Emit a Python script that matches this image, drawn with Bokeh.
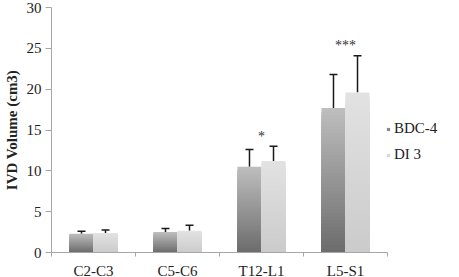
import numpy as np
from bokeh.plotting import figure
from bokeh.models import (ColumnDataSource, FixedTicker, Whisker, TeeHead, Legend,
                          LegendItem, Range1d)
from bokeh.core.properties import value
from bokeh.embed import file_html
from bokeh.resources import INLINE

categories = ["C2-C3", "C5-C6", "T12-L1", "L5-S1"]
series = ["BDC-4", "DI 3"]
bdc4 = [2.3, 2.5, 10.5, 17.7]
bdc4_sd = [0.3, 0.45, 2.1, 4.1]
di3 = [2.4, 2.65, 11.2, 19.6]
di3_sd = [0.35, 0.7, 1.8, 4.5]
sig_labels = ["", "", "*", "***"]
y_ticks = [0, 5, 10, 15, 20, 25, 30]

FONT = "Liberation Serif"
n = len(categories)
centers = np.arange(n) + 0.5
bw = 0.286

AXIS_W = 336          # width of the category area in px
EXTRA_W = 67          # room at right for the legend
x_end = n * (AXIS_W + EXTRA_W) / AXIS_W

p = figure(frame_width=AXIS_W + EXTRA_W, frame_height=245, output_backend="svg",
           toolbar_location=None,
           x_range=Range1d(0, x_end), y_range=Range1d(0, 30),
           min_border_left=40, min_border_right=0, min_border_top=7, min_border_bottom=18)
p.outline_line_color = None
p.grid.grid_line_color = None
p.background_fill_color = "white"
p.border_fill_color = "white"

# gradient bars built from data: nested full-height bars, tallest (lightest) first
def grad_bars(vals, offs, dark, light, N=40):
    xs, tops, cols = [], [], []
    for k in reversed(range(N)):
        t = (k + 0.5) / N
        col = tuple(int(round(d + (l - d) * t)) for d, l in zip(dark, light))
        for c, v in zip(centers, vals):
            xs.append(c + offs)
            tops.append(v * (k + 1) / N)
            cols.append("#%02x%02x%02x" % col)
    src = ColumnDataSource(dict(x=xs, top=tops, color=cols))
    return p.vbar(x="x", bottom=0, top="top", width=bw, source=src,
                  fill_color="color", line_color=None)

r1 = grad_bars(bdc4, -bw / 2, (0x6c, 0x6c, 0x6c), (0xbe, 0xbe, 0xbe))
r2 = grad_bars(di3, bw / 2, (0xcb, 0xcb, 0xcb), (0xe2, 0xe2, 0xe2))

for vals, sds, offs in [(bdc4, bdc4_sd, -bw / 2), (di3, di3_sd, bw / 2)]:
    src = ColumnDataSource(dict(x=centers + offs, lower=vals,
                                upper=[v + s for v, s in zip(vals, sds)]))
    w = Whisker(base="x", lower="lower", upper="upper", source=src,
                line_color="#1a1a1a", line_width=1.5,
                upper_head=TeeHead(size=8, line_color="#1a1a1a", line_width=1.5),
                lower_head=None)
    p.add_layout(w)

# significance marks above the higher error bar
sig_y = [max(a + sa, b + sb) + 1.2 for a, sa, b, sb in zip(bdc4, bdc4_sd, di3, di3_sd)]
p.text(x=centers, y=sig_y, text=sig_labels, text_align="center", text_baseline="middle",
       text_font=value(FONT), text_font_size="14px", text_color="#333333")

# axes
p.yaxis.ticker = FixedTicker(ticks=y_ticks)
p.yaxis.axis_line_color = "#a6a6a6"
p.yaxis.major_tick_line_color = "#a6a6a6"
p.yaxis.major_tick_out = 6
p.yaxis.major_tick_in = 0
p.yaxis.minor_tick_line_color = None
p.yaxis.major_label_text_font = FONT
p.yaxis.major_label_text_font_size = "15px"
p.yaxis.major_label_text_color = "#222222"
p.yaxis.major_label_standoff = 4
p.yaxis.axis_label = "IVD Volume (cm3)"
p.yaxis.axis_label_text_font = FONT
p.yaxis.axis_label_text_font_style = "bold"
p.yaxis.axis_label_text_font_size = "15px"
p.yaxis.axis_label_text_color = "#222222"
p.yaxis.axis_label_standoff = 4

p.xaxis.bounds = (0, n)
p.xaxis.ticker = FixedTicker(ticks=list(centers), minor_ticks=list(range(n + 1)))
p.xaxis.major_label_overrides = {float(c): lab for c, lab in zip(centers, categories)}
p.xaxis.axis_line_color = "#a6a6a6"
p.xaxis.major_tick_line_color = None
p.xaxis.minor_tick_line_color = "#a6a6a6"
p.xaxis.minor_tick_out = 4
p.xaxis.minor_tick_in = 0
p.xaxis.major_label_text_font = FONT
p.xaxis.major_label_text_font_size = "15px"
p.xaxis.major_label_text_color = "#222222"
p.xaxis.major_label_standoff = 4

# legend
lg1 = p.scatter(x=[-10], y=[-10], marker="square", size=8, fill_color="#8a8a8a", line_color=None)
lg2 = p.scatter(x=[-10], y=[-10], marker="square", size=8, fill_color="#d6d6d6", line_color=None)
legend = Legend(items=[LegendItem(label=series[0], renderers=[lg1]),
                       LegendItem(label=series[1], renderers=[lg2])],
                location=(AXIS_W - 3, 89), orientation="vertical")
legend.border_line_color = None
legend.background_fill_alpha = 0
legend.margin = 0
legend.padding = 0
legend.glyph_width = 8
legend.glyph_height = 14
legend.label_height = 14
legend.spacing = 9
legend.label_standoff = 2
legend.label_text_font = FONT
legend.label_text_font_size = "15px"
legend.label_text_color = "#222222"
p.add_layout(legend, "center")

open("out.html", "w").write(file_html(p, INLINE))
